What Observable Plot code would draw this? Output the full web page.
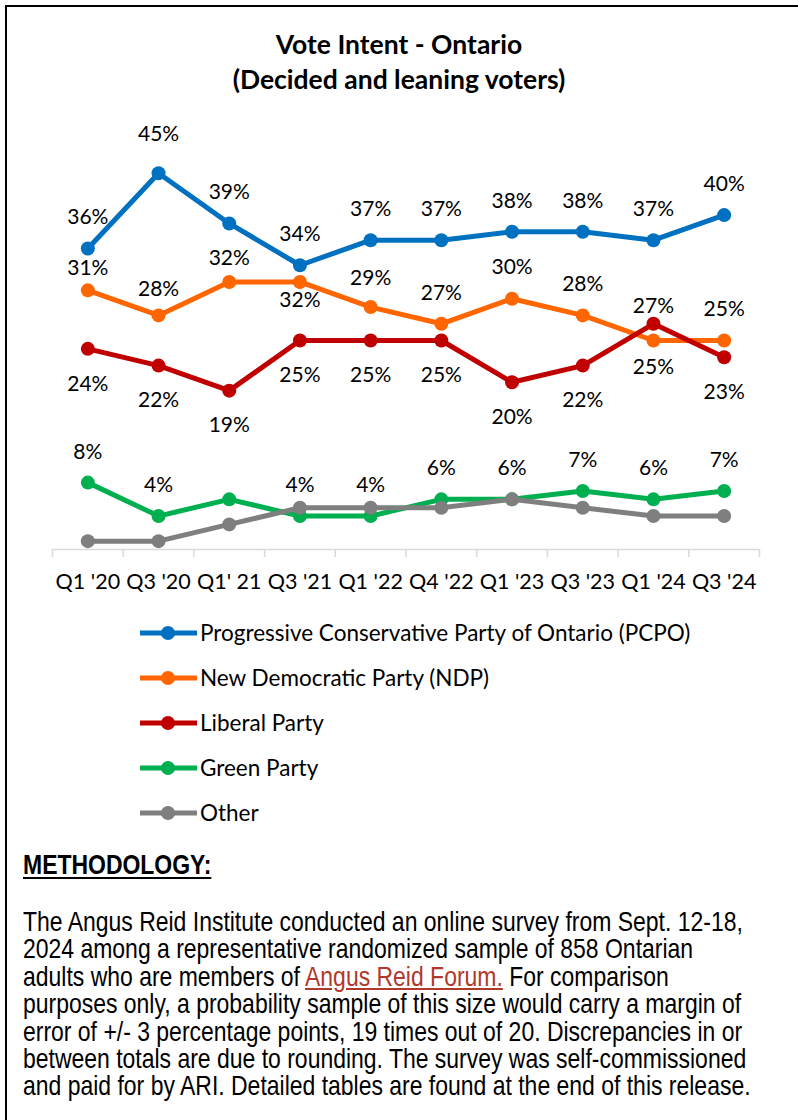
<!DOCTYPE html>
<html>
<head>
<meta charset="utf-8">
<script src="https://cdn.jsdelivr.net/npm/d3@7"></script>
<script src="https://cdn.jsdelivr.net/npm/@observablehq/plot@0.6"></script>
<style>
  html, body { margin: 0; padding: 0; background: #fff; overflow: hidden; }
  #page { position: relative; width: 798px; height: 1120px; background: #fff; }
  #frame { position: absolute; left: 5px; top: 5px; width: 793px; height: 1115px;
           border-top: 2px solid #000; border-left: 2px solid #000; box-sizing: border-box; }
  #title { position: absolute; left: 0; top: 27px; width: 798px; text-align: center;
           font-family: Lato, sans-serif; font-weight: bold; font-size: 26.5px; line-height: 35px; color: #000; }
  #chart { position: absolute; left: 0; top: 100px; }
  #legend { position: absolute; left: 140px; top: 610px; }
  .row { height: 45px; display: flex; align-items: center; font-family: Lato, sans-serif;
         font-size: 22.5px; color: #000; white-space: nowrap; }
  .row svg { margin-right: 3px; }
  #method { position: absolute; left: 23px; top: 848px; color: #000; white-space: nowrap; }
  #mhead { font-weight: bold; text-decoration: underline; text-decoration-thickness: 2px;
           text-underline-offset: 3px; font-size: 28px; line-height: 34px; }
  #mbody { margin-top: 26px; font-size: 28px; line-height: 27.4px; }
  #mbody a { color: #b0392c; text-decoration: underline; }
</style>
</head>
<body>
<div id="page">
  <div id="frame"></div>
  <div id="title">Vote Intent - Ontario<br>(Decided and leaning voters)</div>
  <div id="chart"></div>
  <div id="legend"></div>
  <div id="method">
    <div id="mhead">METHODOLOGY:</div>
    <div id="mbody">The Angus Reid Institute conducted an online survey from Sept. 12-18,<br>2024 among a representative randomized sample of 858 Ontarian<br>adults who are members of <a>Angus Reid Forum.</a> For comparison<br>purposes only, a probability sample of this size would carry a margin of<br>error of +/- 3 percentage points, 19 times out of 20. Discrepancies in or<br>between totals are due to rounding. The survey was self-commissioned<br>and paid for by ARI. Detailed tables are found at the end of this release.</div>
  </div>
</div>
<script>
// ---- Data ----
const quarters = ["Q1 '20", "Q3 '20", "Q1' 21", "Q3 '21", "Q1 '22", "Q4 '22", "Q1 '23", "Q3 '23", "Q1 '24", "Q3 '24"];
const pcpo    = [36, 45, 39, 34, 37, 37, 38, 38, 37, 40];
const ndp     = [31, 28, 32, 32, 29, 27, 30, 28, 25, 25];
const liberal = [24, 22, 19, 25, 25, 25, 20, 22, 27, 23];
const green   = [8, 4, 6, 4, 4, 6, 6, 7, 6, 7];
const other   = [1, 1, 3, 5, 5, 5, 6, 5, 4, 4];
const seriesNames  = ["Progressive Conservative Party of Ontario (PCPO)", "New Democratic Party (NDP)", "Liberal Party", "Green Party", "Other"];
const seriesColors = ["#0070C0", "#FF6600", "#C00000", "#00B050", "#7F7F7F"];

// ---- Label placement (code-level styling, pixel offsets from the point) ----
const seriesValues = [pcpo, ndp, liberal, green, other];
const ABOVE = -31, BELOW = 35;
const defaultOffset = [ABOVE, ABOVE, BELOW, ABOVE, null];
const offsetOverride = {
  0: {1: -39},
  1: {0: -22, 1: -26, 2: -24, 3: 18, 4: -29, 8: 27},
  2: {8: -18},
  3: {0: -30, 2: null}
};

const FONT = "Lato, sans-serif";
const rows = [];
seriesValues.forEach((vals, s) => vals.forEach((v, i) => {
  let off = defaultOffset[s];
  if (offsetOverride[s] && i in offsetOverride[s]) off = offsetOverride[s][i];
  rows.push({s, party: seriesNames[s], q: i, value: v, off});
}));

const marks = [
  Plot.ruleY([0], {stroke: "#d9d9d9", strokeWidth: 1.5}),
  Plot.axisX({ticks: d3.range(11).map(i => i - 0.5), tickSize: 8, tickFormat: () => "", stroke: "#d9d9d9", strokeWidth: 1.5, label: null}),
  Plot.axisX({ticks: d3.range(10), tickSize: 0, tickPadding: 24, tickFormat: i => quarters[i], fontSize: 21.5, fill: "#000", label: null})
];
seriesNames.forEach((name, s) => {
  const d = rows.filter(r => r.s === s);
  marks.push(Plot.line(d, {x: "q", y: "value", stroke: seriesColors[s], strokeWidth: 5}));
  marks.push(Plot.dot(d, {x: "q", y: "value", r: 7, fill: seriesColors[s], stroke: "none"}));
});
// one text mark per distinct offset (dy is a constant option in Plot)
const offsets = Array.from(new Set(rows.filter(r => r.off != null).map(r => r.off)));
offsets.forEach(off => {
  marks.push(Plot.text(rows.filter(r => r.off === off), {
    x: "q", y: "value", text: d => d.value + "%", dy: off, lineAnchor: "middle", fontSize: 21, fill: "#000"
  }));
});

const chart = Plot.plot({
  width: 798,
  height: 500,
  marginLeft: 52,
  marginRight: 39,
  marginTop: 31,
  marginBottom: 51,
  x: {type: "linear", domain: [-0.5, 9.5], label: null},
  y: {domain: [0, 50], axis: null},
  style: {fontFamily: FONT, background: "transparent", overflow: "visible", color: "#000"},
  marks
});
document.getElementById("chart").appendChild(chart);

// ---- Legend ----
const legend = d3.select("#legend");
seriesNames.forEach((name, s) => {
  const row = legend.append("div").attr("class", "row");
  const svg = row.append("svg").attr("width", 57).attr("height", 20);
  svg.append("line").attr("x1", 0).attr("x2", 57).attr("y1", 10).attr("y2", 10)
     .attr("stroke", seriesColors[s]).attr("stroke-width", 5);
  svg.append("circle").attr("cx", 28).attr("cy", 10).attr("r", 7).attr("fill", seriesColors[s]);
  row.append("span").text(name);
});

// ---- Methodology font (Arial Narrow equivalent) ----
function hasFont(name) {
  const c = document.createElement("canvas").getContext("2d");
  c.font = "40px monospace";
  const a = c.measureText("abcdefghijklmnop").width;
  c.font = `40px "${name}", monospace`;
  const b = c.measureText("abcdefghijklmnop").width;
  return Math.abs(a - b) > 0.5;
}
const method = document.getElementById("method");
if (hasFont("Liberation Sans Narrow")) {
  method.style.fontFamily = '"Liberation Sans Narrow", sans-serif';
} else {
  method.style.fontFamily = '"Liberation Sans", Arial, sans-serif';
  method.style.transform = "scaleX(0.82)";
  method.style.transformOrigin = "0 0";
}
</script>
</body>
</html>
